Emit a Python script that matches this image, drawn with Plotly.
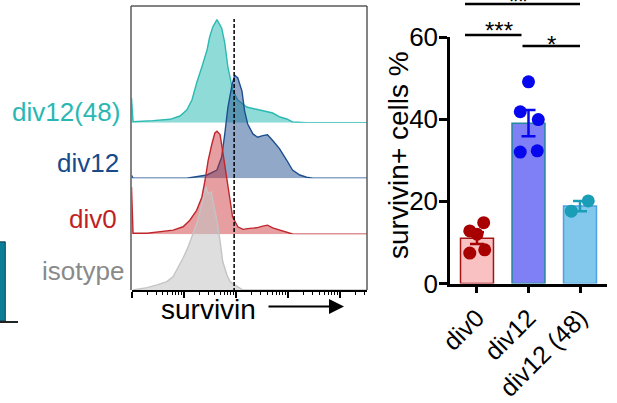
import numpy as np
import plotly.graph_objects as go

W, H = 617, 403
FONT = "Arial, 'Liberation Sans', sans-serif"

# ---------------- flow histograms (x: log10 survivin intensity, y: % of mode) -------------
CYAN_LOG = [1.00, 1.02, 1.03, 1.41, 1.74, 1.93, 2.06, 2.16, 2.25, 2.35, 2.45, 2.50, 2.56, 2.64,
            2.70, 2.73, 2.79, 2.85, 2.89, 2.94, 3.04, 3.21, 3.46, 3.60, 3.71, 3.85, 3.98, 4.09,
            4.36, 5.52]
CYAN_PCT = [24, 1, 1, 2, 3.3, 6.5, 12.3, 22, 38.5, 54, 70.6, 83.2, 93, 100, 94.9, 92, 77.4,
            54, 44.4, 31.7, 22, 15.2, 12.3, 10.4, 9.4, 5.5, 3.6, 0.7, 0, 0]

BLUE_LOG = [1.00, 1.02, 1.03, 2.06, 2.25, 2.45, 2.64, 2.73, 2.79, 2.85, 2.93, 2.98, 3.04, 3.12,
            3.17, 3.23, 3.33, 3.42, 3.52, 3.61, 3.71, 3.84, 3.98, 4.09, 4.23, 4.36, 4.48, 5.52]
BLUE_PCT = [3, 0, 0, 0, 1.5, 3.2, 8, 20.7, 43, 68.7, 91, 100, 97.4, 84.7, 65.5, 52.7, 43.1,
            39.9, 41.5, 42.2, 36.7, 28.8, 17.5, 8, 3.2, 1, 0, 0]

RED_LOG = [1.00, 1.02, 1.03, 1.30, 1.55, 1.80, 1.99, 2.12, 2.25, 2.35, 2.41, 2.47, 2.54, 2.60,
           2.64, 2.70, 2.75, 2.83, 2.89, 2.94, 3.04, 3.14, 3.27, 3.40, 3.52, 3.61, 3.71, 3.85,
           3.98, 4.09, 4.23, 5.52]
RED_PCT = [46, 1, 1, 1, 2.5, 4, 7.3, 13.7, 23.3, 36, 52, 71.2, 87.2, 98.4, 100, 96.8, 80.8,
           55.2, 32.9, 16.9, 7.3, 4.8, 5.8, 6.3, 8, 8.9, 6.3, 4.1, 1.9, 0.3, 0, 0]

GRAY_LOG = [1.03, 1.30, 1.49, 1.68, 1.80, 1.89, 1.99, 2.08, 2.18, 2.27, 2.37, 2.43, 2.47, 2.53,
            2.56, 2.64, 2.70, 2.75, 2.83, 2.89, 2.98, 3.14, 5.52]
GRAY_PCT = [0, 2.3, 4.9, 8.2, 13.1, 21.3, 31.1, 40.9, 54.1, 67.2, 86.9, 100, 93.5, 95.1, 86.9,
            67.2, 47.5, 27.9, 14.8, 8.2, 4.9, 0, 0]

HIST_LABELS = ["div12(48)", "div12", "div0", "isotype"]
GATE_LOG = 2.97          # survivin+ gate
DECADES = [1, 2, 3, 4, 5]

# ---------------- survivin+ cells % per sample -------------
GROUPS = ["div0", "div12", "div12 (48)"]
VALUES = [
    [12.8, 14.8, 12.0, 7.4, 8.2],
    [49.1, 41.8, 39.9, 32.0, 32.3],
    [17.6, 20.1],
]
Y_TICKS = [0, 20, 40, 60]
SIG_LABELS = ["**", "***", "*"]

# fragment of the neighbouring panel
FRAG_VALUE = [1.0]


def px(x):
    return x / W


def py(y):
    return 1 - y / H


fig = go.Figure()

# ----- stacked histograms: one y axis per row, drawn top row first -----
rows = [
    dict(x=CYAN_LOG, y=CYAN_PCT, line="#2bb9b2", fill="rgba(40,186,178,0.52)", base=122.7,
         lab_col="#2ab7b3", lab_x=122, lab_y=112),
    dict(x=BLUE_LOG, y=BLUE_PCT, line="#1d4f8f", fill="rgba(35,82,146,0.5)", base=178.3,
         lab_col="#174a8b", lab_x=121, lab_y=163),
    dict(x=RED_LOG, y=RED_PCT, line="#c0272d", fill="rgba(200,40,45,0.45)", base=234.3,
         lab_col="#c01f24", lab_x=119, lab_y=219),
    dict(x=GRAY_LOG, y=GRAY_PCT, line="#c4c4c4", fill="rgba(195,195,195,0.55)", base=290,
         lab_col="#8a8a8a", lab_x=126, lab_y=271),
]
TOP = 6
PX_PER_PCT = 1.03
for i, r in enumerate(rows):
    yid = "y" if i == 0 else f"y{i + 1}"
    key = "yaxis" if i == 0 else f"yaxis{i + 1}"
    fig.add_trace(go.Scatter(x=r["x"], y=r["y"], mode="lines", fill="tozeroy",
                             fillcolor=r["fill"], line=dict(color=r["line"], width=1.4),
                             xaxis="x", yaxis=yid, hoverinfo="skip"))
    fig.layout[key] = dict(domain=[py(r["base"]), py(TOP)],
                           range=[0, (r["base"] - TOP) / PX_PER_PCT],
                           visible=False, anchor="x", fixedrange=True, automargin=False)
    fig.add_annotation(text=HIST_LABELS[i], xref="paper", yref="paper",
                       x=px(r["lab_x"]), y=py(r["lab_y"]), xanchor="right", yanchor="middle",
                       showarrow=False, font=dict(family=FONT, size=26, color=r["lab_col"]))

minor_vals = [k + np.log10(m) for k in range(1, 6) for m in range(2, 10)]
minor_vals = [v for v in minor_vals if v <= 5.52]
fig.update_layout(xaxis=dict(domain=[px(131.5), px(367)], range=[1.0, 5.52], anchor="y4",
                             showline=True, linecolor="black", linewidth=2,
                             ticks="outside", tickvals=DECADES, ticklen=6, tickwidth=2,
                             tickcolor="black", showticklabels=False, showgrid=False,
                             zeroline=False, automargin=False,
                             minor=dict(tickmode="array", tickvals=minor_vals, ticks="outside",
                                        ticklen=3, tickwidth=1, tickcolor="black",
                                        showgrid=False)))

# frame of the histogram panel
frame = "#5a5a5a"
for x0, y0, x1, y1 in [(131, 6, 131, 290), (131, 6, 367, 6), (367, 6, 367, 290)]:
    fig.add_shape(type="line", xref="paper", yref="paper", x0=px(x0), y0=py(y0),
                  x1=px(x1), y1=py(y1), line=dict(color=frame, width=1.5))

# gate line
fig.add_shape(type="line", xref="x", yref="paper", x0=GATE_LOG, x1=GATE_LOG,
              y0=py(292), y1=py(19), line=dict(color="black", width=1.5, dash="4px,2px"))

# axis title with arrow
fig.add_annotation(text="survivin", xref="paper", yref="paper", x=px(208), y=py(309),
                   xanchor="center", yanchor="middle", showarrow=False,
                   font=dict(family=FONT, size=28, color="black"))
fig.add_annotation(text="", xref="paper", yref="paper", x=px(344), y=py(306.5),
                   ax=-77, ay=0, showarrow=True, arrowhead=2, arrowsize=1.5,
                   arrowwidth=2, arrowcolor="black", standoff=0)

# ----- bar chart -----
BAR_FILL = ["#f9c1c1", "#7f80f6", "#82c8ec"]
BAR_EDGE = ["#a31515", "#24899b", "#4f9fe2"]
DOT_COL = ["#a80000", "#0707ee", "#1a9db6"]
JITTER = [[-0.14, 0.13, 0.0, -0.14, 0.15],
          [0.0, -0.16, 0.19, -0.16, 0.17],
          [-0.17, 0.16]]

for i, vals in enumerate(VALUES):
    v = np.array(vals)
    mean = v.mean()
    sem = v.std(ddof=1) / np.sqrt(len(v))
    fig.add_trace(go.Bar(x=[i], y=[mean], width=0.64, xaxis="x2", yaxis="y5",
                         marker=dict(color=BAR_FILL[i], line=dict(color=BAR_EDGE[i], width=1.5)),
                         hoverinfo="skip"))
    fig.add_trace(go.Scatter(x=[i], y=[mean], mode="markers", xaxis="x2", yaxis="y5",
                             marker=dict(size=1, color="rgba(0,0,0,0)"),
                             error_y=dict(type="data", array=[sem], color=DOT_COL[i],
                                          thickness=2.5, width=7),
                             hoverinfo="skip"))
    fig.add_trace(go.Scatter(x=[i + j for j in JITTER[i]], y=vals, mode="markers",
                             xaxis="x2", yaxis="y5",
                             marker=dict(size=13, color=DOT_COL[i], line=dict(width=0)),
                             hoverinfo="skip"))

fig.update_layout(
    xaxis2=dict(domain=[px(450), px(607)], range=[-0.524, 2.524], anchor="y5",
                showline=True, linecolor="black", linewidth=2.5, ticks="outside",
                ticklen=7, tickwidth=2.5, tickcolor="black", tickvals=[0, 1, 2],
                ticktext=GROUPS, tickangle=-45, showgrid=False, zeroline=False,
                automargin=False, tickfont=dict(family=FONT, size=25, color="black")),
    yaxis5=dict(domain=[py(283.5), py(37)], range=[0, 60], anchor="x2",
                showline=True, linecolor="black", linewidth=2.5, ticks="outside",
                ticklen=8, tickwidth=2.5, tickcolor="black", tickvals=Y_TICKS,
                showgrid=False, zeroline=False, automargin=False, ticklabelstandoff=-4,
                tickfont=dict(family=FONT, size=26, color="black")),
    barmode="overlay",
)

fig.add_annotation(text="survivin+ cells %", xref="paper", yref="paper", x=px(398),
                   y=py(155), textangle=-90, showarrow=False, xanchor="center",
                   yanchor="middle", font=dict(family=FONT, size=28, color="black"))

# significance brackets
brackets = [(465, 580, 4, 518, 1), (465, 521.5, 35, 499, 31), (522.5, 580, 46, 551, 44)]
for (x0, x1, yl, xt, yt), lab in zip(brackets, SIG_LABELS):
    fig.add_shape(type="line", xref="paper", yref="paper", x0=px(x0), x1=px(x1),
                  y0=py(yl), y1=py(yl), line=dict(color="black", width=2.5))
    fig.add_annotation(text=lab, xref="paper", yref="paper", x=px(xt), y=py(yt),
                       showarrow=False, xanchor="center", yanchor="middle",
                       font=dict(family=FONT, size=24, color="black"))

# ----- edge of the neighbouring panel -----
fig.add_trace(go.Bar(x=[0], y=FRAG_VALUE, width=0.8, xaxis="x3", yaxis="y6",
                     marker=dict(color="#0b7d96", line=dict(color="#1e3a4a", width=1)),
                     hoverinfo="skip"))
fig.update_layout(
    xaxis3=dict(domain=[0, px(18)], range=[0.15, 1.0], anchor="y6", showline=True,
                linecolor="#222", linewidth=1.5, ticks="", showticklabels=False,
                showgrid=False, zeroline=False, automargin=False),
    yaxis6=dict(domain=[py(321), py(230)], range=[0, 1.15], anchor="x3", visible=False,
                automargin=False),
)

fig.update_layout(width=W, height=H, margin=dict(l=0, r=0, t=0, b=0, autoexpand=False),
                  paper_bgcolor="white", plot_bgcolor="rgba(0,0,0,0)", showlegend=False,
                  font=dict(family=FONT))

fig.write_html("out.html", config=dict(displayModeBar=False))
